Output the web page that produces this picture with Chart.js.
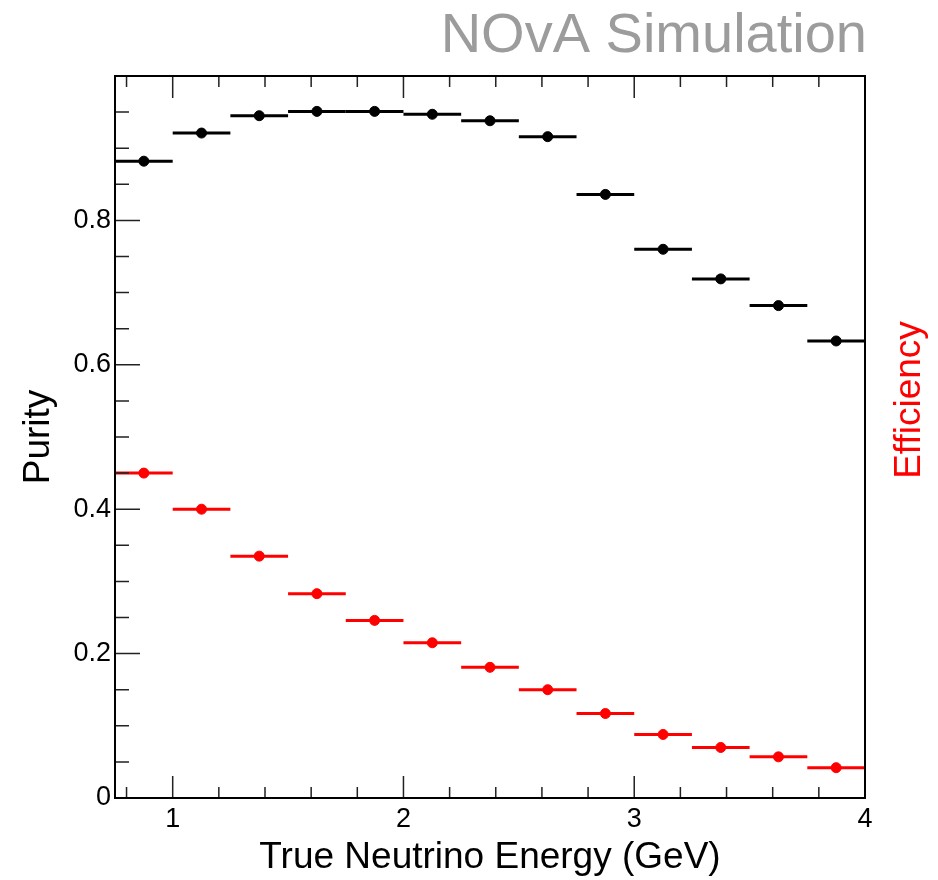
<!DOCTYPE html>
<html>
<head>
<meta charset="utf-8">
<title>NOvA purity / efficiency</title>
<script src="https://cdn.jsdelivr.net/npm/chart.js@4.4.1/dist/chart.umd.min.js"></script>
<style>
  html, body { margin: 0; padding: 0; background: #fff; }
  #wrap { width: 938px; height: 880px; }
</style>
</head>
<body>
<div id="wrap"><canvas id="chart"></canvas></div>
<script>
// bins of true neutrino energy (GeV), 0.25 wide
const binCentres = [0.875, 1.125, 1.375, 1.625, 1.875, 2.125, 2.375, 2.625, 2.875, 3.125, 3.375, 3.625, 3.875];
const binHalfWidth = 0.125;

// values
const purity = [0.882, 0.921, 0.945, 0.951, 0.951, 0.947, 0.938, 0.916, 0.836, 0.760, 0.719, 0.682, 0.633];
const efficiency = [0.450, 0.400, 0.335, 0.283, 0.246, 0.215, 0.181, 0.150, 0.117, 0.088, 0.070, 0.057, 0.042];

// axis ticks
const xTickLabels = ['1', '2', '3', '4'];
const yTickLabels = ['0', '0.2', '0.4', '0.6', '0.8'];
const xMinorTicks = [0.8, 1.2, 1.4, 1.6, 1.8, 2.2, 2.4, 2.6, 2.8, 3.2, 3.4, 3.6, 3.8];
const yMinorTicks = [0.05, 0.1, 0.15, 0.25, 0.3, 0.35, 0.45, 0.5, 0.55, 0.65, 0.7, 0.75, 0.85, 0.9, 0.95];

const FONT = "'Liberation Sans', Arial, Helvetica, sans-serif";

function toPoints(values) {
    return values.map((v, i) => ({ x: binCentres[i], y: v }));
}

// horizontal bars showing the bin width
const binBars = {
    id: 'binBars',
    beforeDatasetsDraw(chart) {
        const { ctx, chartArea, scales: { x, y } } = chart;
        ctx.save();
        ctx.beginPath();
        ctx.rect(chartArea.left, chartArea.top, chartArea.width, chartArea.height);
        ctx.clip();
        chart.data.datasets.forEach(ds => {
            ctx.strokeStyle = ds.borderColor;
            ctx.lineWidth = 3;
            ds.data.forEach(p => {
                const py = y.getPixelForValue(p.y);
                ctx.beginPath();
                ctx.moveTo(x.getPixelForValue(p.x - binHalfWidth), py);
                ctx.lineTo(x.getPixelForValue(p.x + binHalfWidth), py);
                ctx.stroke();
            });
        });
        ctx.restore();
    }
};

// ROOT style frame with inward ticks, plus the extra labels
const rootFrame = {
    id: 'rootFrame',
    afterDraw(chart) {
        const { ctx, chartArea: a, scales: { x, y } } = chart;
        ctx.save();

        ctx.strokeStyle = '#222';
        ctx.lineWidth = 1.5;
        ctx.beginPath();
        const xTick = (v, len) => {
            const px = x.getPixelForValue(v);
            ctx.moveTo(px, a.bottom); ctx.lineTo(px, a.bottom - len);
            ctx.moveTo(px, a.top); ctx.lineTo(px, a.top + len);
        };
        const yTick = (v, len) => {
            const py = y.getPixelForValue(v);
            ctx.moveTo(a.left, py); ctx.lineTo(a.left + len, py);
        };
        xTickLabels.forEach(t => xTick(Number(t), 22));
        xMinorTicks.forEach(v => xTick(v, 11));
        yTickLabels.forEach(t => yTick(Number(t), 25));
        yMinorTicks.forEach(v => yTick(v, 14));
        ctx.stroke();

        ctx.strokeStyle = '#000';
        ctx.lineWidth = 2;
        ctx.strokeRect(a.left, a.top, a.width, a.height);

        // header
        ctx.fillStyle = '#9c9c9c';
        ctx.font = '56px ' + FONT;
        ctx.textAlign = 'right';
        ctx.textBaseline = 'alphabetic';
        ctx.fillText('NOvA Simulation', a.right + 2, 52);

        // right-hand axis title
        ctx.translate(910, 400);
        ctx.rotate(-Math.PI / 2);
        ctx.fillStyle = '#ff0000';
        ctx.font = '37px ' + FONT;
        ctx.textAlign = 'center';
        ctx.textBaseline = 'middle';
        ctx.fillText('Efficiency', 0, 0);

        ctx.restore();
    }
};

const chart = new Chart(document.getElementById('chart'), {
    type: 'scatter',
    data: {
        datasets: [
            {
                label: 'Purity',
                data: toPoints(purity),
                backgroundColor: '#000',
                borderColor: '#000',
                pointRadius: 5,
                pointBorderWidth: 1,
                showLine: false
            },
            {
                label: 'Efficiency',
                data: toPoints(efficiency),
                backgroundColor: '#ff0000',
                borderColor: '#ff0000',
                pointRadius: 5,
                pointBorderWidth: 1,
                showLine: false
            }
        ]
    },
    options: {
        responsive: true,
        maintainAspectRatio: false,
        animation: false,
        layout: { padding: { top: 76, right: 73, left: 0, bottom: 0 } },
        plugins: {
            legend: { display: false },
            tooltip: { enabled: false }
        },
        scales: {
            x: {
                type: 'linear',
                min: 0.75,
                max: 4,
                grid: { display: false, drawTicks: false },
                border: { display: false },
                afterBuildTicks: scale => {
                    scale.ticks = xTickLabels.map(t => ({ value: Number(t) }));
                },
                afterFit: scale => { scale.height = 82; },
                ticks: {
                    color: '#000',
                    padding: 5,
                    font: { family: FONT, size: 27 },
                    callback: v => xTickLabels.find(t => Number(t) === v) || ''
                },
                title: {
                    display: true,
                    text: 'True Neutrino Energy (GeV)',
                    color: '#000',
                    font: { family: FONT, size: 37 },
                    padding: { top: 0, bottom: 0 }
                }
            },
            y: {
                min: 0,
                max: 1,
                grid: { display: false, drawTicks: false },
                border: { display: false },
                afterBuildTicks: scale => {
                    scale.ticks = yTickLabels.map(t => ({ value: Number(t) }));
                },
                afterFit: scale => { scale.width = 115; },
                ticks: {
                    color: '#000',
                    padding: 4,
                    font: { family: FONT, size: 27 },
                    callback: v => yTickLabels.find(t => Number(t) === v) || ''
                },
                title: {
                    display: true,
                    text: 'Purity',
                    color: '#000',
                    font: { family: FONT, size: 37 },
                    padding: { top: 17, bottom: 0 }
                }
            }
        }
    },
    plugins: [binBars, rootFrame]
});
</script>
</body>
</html>
